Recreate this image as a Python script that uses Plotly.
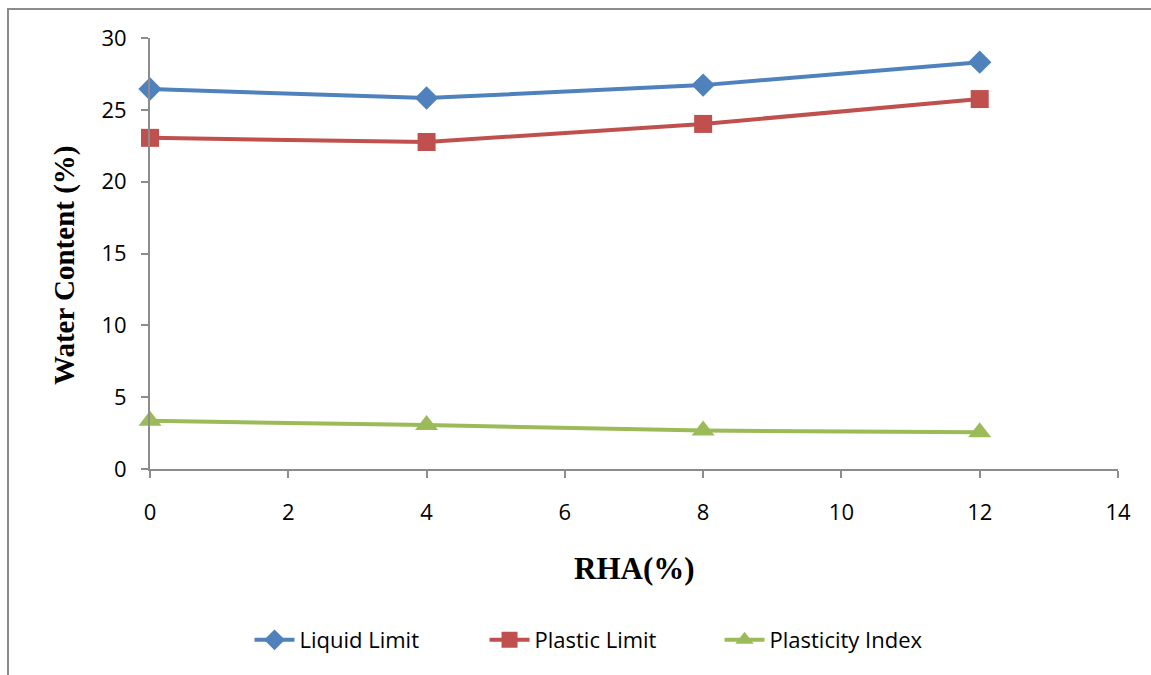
import plotly.graph_objects as go

rha = [0, 4, 8, 12]
liquid_limit = [26.45, 25.82, 26.72, 28.32]
plastic_limit = [23.05, 22.76, 24.02, 25.75]
plasticity_index = [3.35, 3.06, 2.68, 2.55]

x_ticks = [0, 2, 4, 6, 8, 10, 12, 14]
y_ticks = [0, 5, 10, 15, 20, 25, 30]

W, H = 1151, 675
L, R, T, B = 150, 33, 38, 206
pw, ph = W - L - R, H - T - B

def px_x(p):
    return (p - L) / pw

def px_y(p):
    return (H - B - p) / ph

fig = go.Figure()
fig.add_trace(go.Scatter(x=rha, y=liquid_limit, name="Liquid Limit", mode="lines+markers",
                         line=dict(color="#4F81BD", width=4), cliponaxis=False,
                         marker=dict(symbol="diamond", size=18, color="#4F81BD")))
fig.add_trace(go.Scatter(x=rha, y=plastic_limit, name="Plastic Limit", mode="lines+markers",
                         line=dict(color="#C0504D", width=4), cliponaxis=False,
                         marker=dict(symbol="square", size=18, color="#C0504D")))
fig.add_trace(go.Scatter(x=rha, y=plasticity_index, name="Plasticity Index", mode="lines+markers",
                         line=dict(color="#9BBB59", width=4), cliponaxis=False,
                         marker=dict(symbol="triangle-up", size=20, color="#9BBB59")))

tick_font = dict(family="Open Sans, Lato, sans-serif", size=22, color="#000")
axis_common = dict(showgrid=False, zeroline=False, showline=True, linecolor="#8C8C8C", linewidth=2,
                   ticks="outside", ticklen=7, tickwidth=2, tickcolor="#8C8C8C", tickfont=tick_font)

fig.update_xaxes(range=[0, 14], tickvals=x_ticks, ticklabelstandoff=16, **axis_common)
fig.update_yaxes(range=[0, 30], tickvals=y_ticks, ticklabelstandoff=10, **axis_common)

fig.update_layout(
    width=W, height=H,
    margin=dict(l=L, r=R, t=T, b=B),
    plot_bgcolor="white", paper_bgcolor="white",
    showlegend=True,
    legend=dict(orientation="h", x=px_x(602), y=px_y(640), xanchor="center", yanchor="middle",
                font=dict(family="Open Sans, Lato, sans-serif", size=22, color="#000"),
                itemwidth=40, entrywidth=180, tracegroupgap=0, bgcolor="rgba(0,0,0,0)"),
    annotations=[
        dict(text="<b>RHA(%)</b>", xref="paper", yref="paper", x=px_x(634), y=px_y(568),
             showarrow=False, xanchor="center", yanchor="middle",
             font=dict(family="Liberation Serif, Times New Roman, serif", size=31, color="#000")),
        dict(text="<b>Water Content (%)</b>", xref="paper", yref="paper", x=px_x(64), y=px_y(266),
             showarrow=False, xanchor="center", yanchor="middle", textangle=-90,
             font=dict(family="Liberation Serif, Times New Roman, serif", size=29, color="#000")),
    ],
    shapes=[
        dict(type="rect", xref="paper", yref="paper", x0=px_x(8), x1=px_x(1200), y0=px_y(720), y1=px_y(9),
             line=dict(color="#8C8C8C", width=2), fillcolor="rgba(0,0,0,0)", layer="below"),
    ],
)

fig.write_html("out.html")
